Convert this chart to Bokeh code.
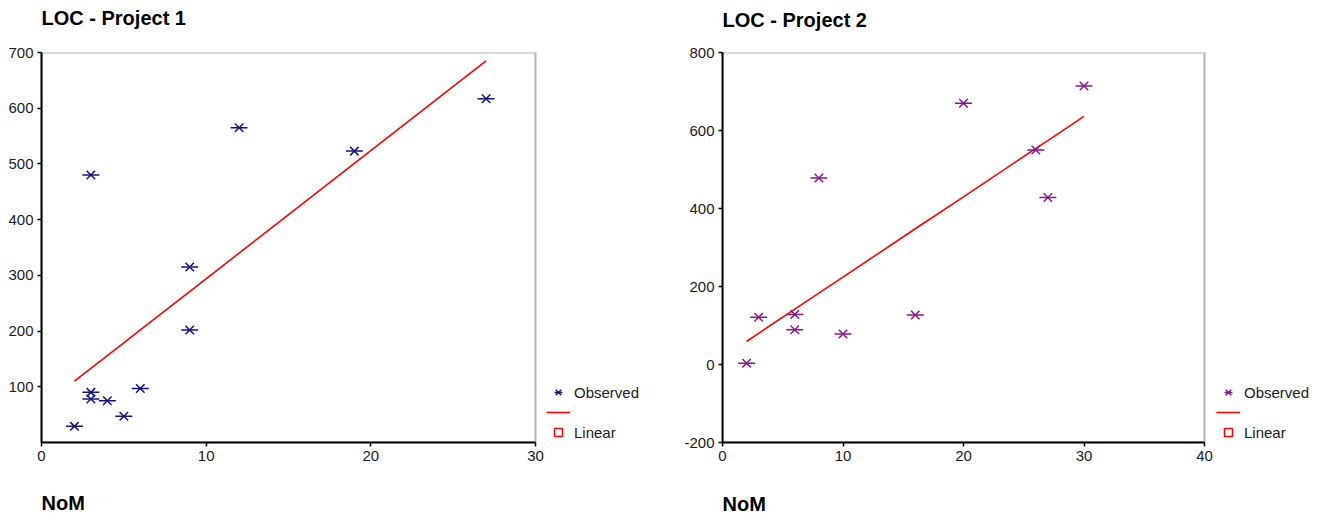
from bokeh.plotting import figure
from bokeh.layouts import row, column
from bokeh.models import (Range1d, FixedTicker, Label, Legend, LegendItem, BoxAnnotation,
                          ColumnDataSource)
from bokeh.embed import file_html
from bokeh.resources import INLINE

# ---- data: Project 1 ----
p1_nom = [2, 3, 3, 3, 4, 5, 6, 9, 9, 12, 19, 27]
p1_loc = [29, 90, 78, 480, 75, 47, 97, 315, 202, 565, 523, 617]
p1_fit_nom = [2, 3, 4, 5, 6, 9, 12, 19, 27]
p1_fit_loc = [110, 133, 156, 179, 202, 271, 340, 501, 685]
p1_xticks = [0, 10, 20, 30]
p1_yticks = [100, 200, 300, 400, 500, 600, 700]

# ---- data: Project 2 ----
p2_nom = [2, 3, 6, 6, 8, 10, 16, 20, 26, 27, 30]
p2_loc = [3, 121, 128, 89, 478, 78, 127, 670, 550, 428, 714]
p2_fit_nom = [2, 3, 6, 8, 10, 16, 20, 26, 27, 30]
p2_fit_loc = [59, 80, 142, 183, 224, 348, 430, 554, 574, 636]
p2_xticks = [0, 10, 20, 30, 40]
p2_yticks = [-200, 0, 200, 400, 600, 800]

titles = ["LOC - Project 1", "LOC - Project 2"]
x_title = "NoM"

FONT = "Liberation Sans"
TXT = "#1a1a1a"
TOP_H = 40
MAIN_H = 440
BOT_H = 37


def text_strip(width, height, text, tx, ty):
    """A bare figure whose data units equal pixels, holding one bold text."""
    p = figure(width=width, height=height, x_range=Range1d(0, width), y_range=Range1d(0, height),
               output_backend="svg", toolbar_location=None, x_axis_location=None,
               y_axis_location=None, min_border=0)
    p.min_border_left = p.min_border_right = p.min_border_top = p.min_border_bottom = 0
    p.outline_line_color = None
    p.grid.visible = False
    p.add_layout(Label(x=tx, y=ty, text=text, text_font=FONT, text_font_size="20px",
                       text_font_style="bold", text_color="black", text_baseline="alphabetic"))
    return p


def make_chart(xs, ys, fx, fy, xr, yr, xticks, yticks, color,
               width, bl, bt, bb, box_px, leg_x):
    # the plotting frame extends to the right edge so the legend can sit beside the box;
    # the box itself spans xr (box_px pixels wide)
    frame_w = width - bl
    x_end = xr[0] + (xr[1] - xr[0]) * frame_w / box_px
    p = figure(width=width, height=MAIN_H, x_range=Range1d(xr[0], x_end), y_range=Range1d(*yr),
               output_backend="svg", toolbar_location=None,
               min_border_left=bl, min_border_right=0, min_border_top=bt, min_border_bottom=bb)
    p.background_fill_color = "white"
    p.border_fill_color = "white"
    p.outline_line_color = None
    p.xgrid.visible = False
    p.ygrid.visible = False
    p.add_layout(BoxAnnotation(left=xr[0], right=xr[1], bottom=yr[0], top=yr[1],
                               fill_alpha=0, line_color="black", line_width=2))
    for ax, t in ((p.xaxis, xticks), (p.yaxis, yticks)):
        ax.ticker = FixedTicker(ticks=t)
        ax.major_label_overrides = {v: str(v) for v in t}
        ax.axis_line_width = 2
        ax.axis_line_color = "black"
        ax.major_tick_out = 4
        ax.major_tick_in = 0
        ax.major_tick_line_width = 1.5
        ax.minor_tick_line_color = None
        ax.major_label_text_font = FONT
        ax.major_label_text_font_size = "15px"
        ax.major_label_text_color = TXT
        ax.major_label_standoff = 4
    p.xaxis.bounds = xr

    fit_src = ColumnDataSource(dict(x=fx, y=fy))
    rl = p.line("x", "y", source=fit_src, line_color="#ff0000", line_width=1.6)
    rx = p.scatter(xs, ys, marker="x", size=12, line_color=color, line_width=1.5)
    rd = p.scatter(xs, ys, marker="dash", size=17, line_color=color, line_width=1.5)
    # square symbol of the "Linear" legend entry; hidden on the plot itself
    rsq = p.scatter("x", "y", source=fit_src, marker="square", size=7, line_color="#ff0000",
                    fill_color="white", line_width=1.5)
    rsq.visible = False

    leg = Legend(items=[LegendItem(label="Observed", renderers=[rx, rd]),
                        LegendItem(label=" ", renderers=[rl]),
                        LegendItem(label="Linear", renderers=[rsq])],
                 location=(leg_x, 0))
    leg.glyph_width = 24
    leg.glyph_height = 20
    leg.label_height = 20
    leg.spacing = 0
    leg.padding = 0
    leg.margin = 0
    leg.label_standoff = 4
    leg.label_text_font = FONT
    leg.label_text_font_size = "15px"
    leg.label_text_color = TXT
    leg.border_line_alpha = 0
    leg.background_fill_alpha = 0
    leg.inactive_fill_alpha = 0
    p.add_layout(leg)
    return p


t1 = text_strip(661, TOP_H, titles[0], 41, 23)
t2 = text_strip(662, TOP_H, titles[1], 61, 20.5)
p1 = make_chart(p1_nom, p1_loc, p1_fit_nom, p1_fit_loc,
                (0, 30), (0, 700), p1_xticks, p1_yticks, "#14147e",
                661, 41, 10, 38, 494, 505)
p2 = make_chart(p2_nom, p2_loc, p2_fit_nom, p2_fit_loc,
                (0, 40), (-200, 800), p2_xticks, p2_yticks, "#86188a",
                662, 61, 12, 37, 482, 494)
n1 = text_strip(661, BOT_H, x_title, 41, 15)
n2 = text_strip(662, BOT_H, x_title, 61, 13.5)

layout = column(row(t1, t2), row(p1, p2), row(n1, n2))
open("out.html", "w").write(file_html(layout, INLINE))
